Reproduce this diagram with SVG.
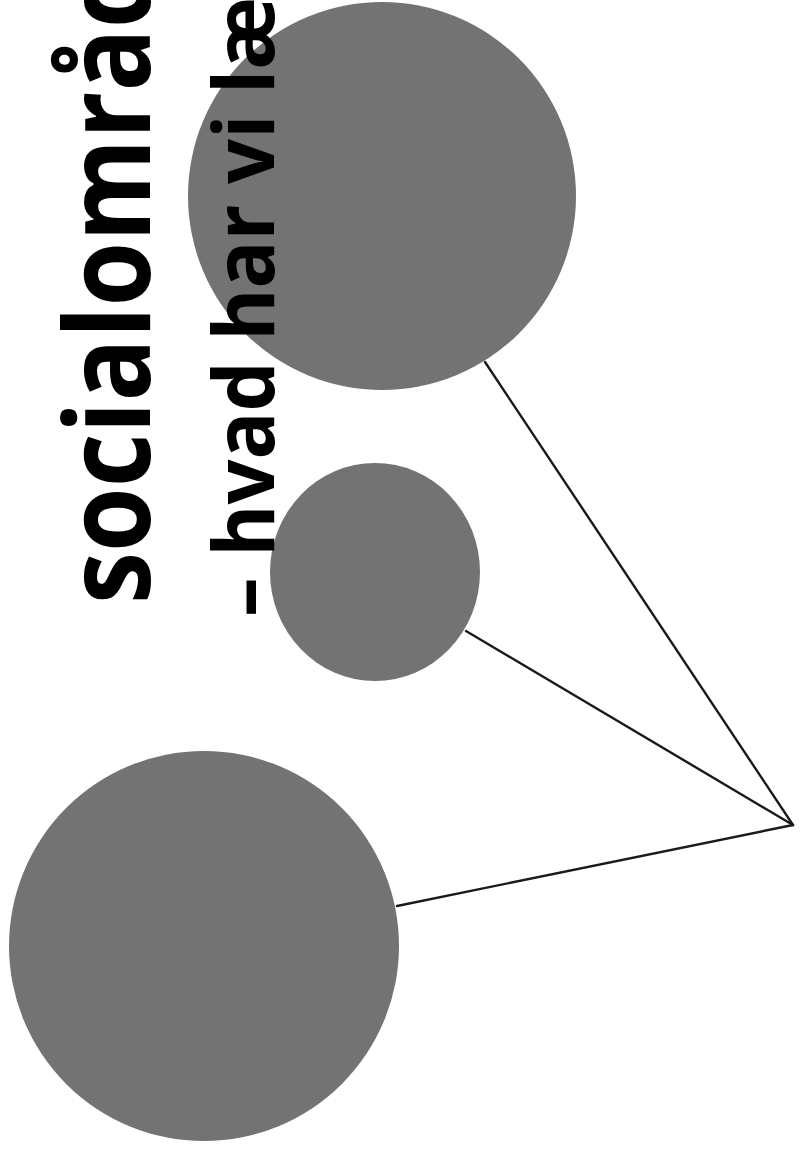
<svg xmlns="http://www.w3.org/2000/svg" width="800" height="1151" viewBox="0 0 800 1151">
  <style>
    .node { fill: #737373; }
    .conn { stroke: #1a1a1a; stroke-width: 2.4; fill: none; stroke-linecap: round; }
    .title { font-family: "Open Sans", "Liberation Sans", sans-serif; font-weight: bold; fill: #000000; }
  </style>
  <rect x="0" y="0" width="800" height="1151" fill="#ffffff"/>
  <g id="connectors">
    <line class="conn" x1="485" y1="362" x2="793" y2="825"/>
    <line class="conn" x1="466" y1="631" x2="793" y2="825"/>
    <line class="conn" x1="397" y1="906" x2="793" y2="825"/>
  </g>
  <g id="circle-top">
    <circle class="node" cx="382" cy="196" r="194"/>
  </g>
  <g id="circle-middle">
    <ellipse class="node" cx="375" cy="572" rx="105" ry="109"/>
  </g>
  <g id="circle-bottom">
    <circle class="node" cx="204" cy="946" r="195"/>
  </g>
  <g id="title">
    <text class="title" font-size="118" transform="translate(150,604) rotate(-90)" textLength="642" lengthAdjust="spacingAndGlyphs">socialområd</text>
    <text class="title" font-size="84" transform="translate(274,617) rotate(-90)" textLength="620" lengthAdjust="spacingAndGlyphs">– hvad har vi læ</text>
  </g>
</svg>
